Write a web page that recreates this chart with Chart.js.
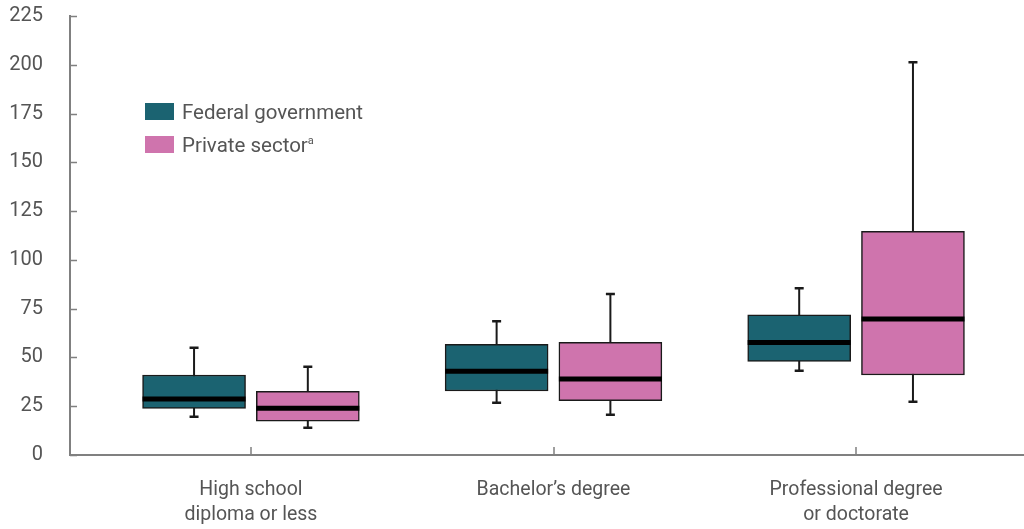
<!DOCTYPE html>
<html>
<head>
<meta charset="utf-8">
<script src="https://cdn.jsdelivr.net/npm/chart.js@4.4.1/dist/chart.umd.min.js"></script>
<style>
  html, body { margin: 0; padding: 0; background: #fff; }
  #wrap { position: relative; width: 1024px; height: 529px; }
  #legend { position: absolute; left: 145px; top: 103px; font-family: Roboto, sans-serif; font-size: 20.5px; color: #555; }
  .item { display: flex; align-items: center; height: 17px; margin-bottom: 16px; white-space: nowrap; }
  .swatch { width: 29px; height: 17px; margin-right: 8px; }
  .item sup { font-size: 11px; line-height: 0; vertical-align: 8px; }
</style>
</head>
<body>
<div id="wrap">
  <canvas id="chart"></canvas>
  <div id="legend"></div>
</div>
<script>
// ===== DATA =====
const categories = [['High school', 'diploma or less'], ['Bachelor’s degree'], ['Professional degree', 'or doctorate']];
const seriesNames = ['Federal government', 'Private sector'];
const seriesNotes = ['', 'a'];
const yTicks = [0, 25, 50, 75, 100, 125, 150, 175, 200, 225];

// Federal government
const fedMin    = [19.6, 26.8, 43.2];
const fedQ1     = [23.9, 32.8, 48.0];
const fedMedian = [28.7, 42.9, 57.7];
const fedQ3     = [41.0, 56.7, 71.9];
const fedMax    = [55.0, 68.6, 85.5];

// Private sector
const privMin    = [14.0, 20.6, 27.3];
const privQ1     = [17.4, 27.8, 41.0];
const privMedian = [23.9, 38.9, 69.7];
const privQ3     = [32.6, 57.7, 114.7];
const privMax    = [45.2, 82.5, 201.3];

const colors = ['#1b6371', '#cf74ad'];
const boxOffset = 0.188;
const axisGray = '#808080';
const textGray = '#555';

// ===== BOX PLOT PLUGIN (whiskers, medians, inner ticks) =====
const boxPlotPlugin = {
  id: 'boxPlot',
  beforeDatasetsDraw(chart) {
    const ctx = chart.ctx, y = chart.scales.y;
    ctx.save();
    ctx.strokeStyle = '#1a1a1a';
    chart.data.datasets.forEach((ds, d) => {
      chart.getDatasetMeta(d).data.forEach((bar, i) => {
        const lo = y.getPixelForValue(ds.low[i]);
        const hi = y.getPixelForValue(ds.high[i]);
        ctx.lineWidth = 2;
        ctx.beginPath();
        ctx.moveTo(bar.x, lo);
        ctx.lineTo(bar.x, hi);
        ctx.stroke();
        ctx.lineWidth = 2.5;
        ctx.beginPath();
        ctx.moveTo(bar.x - 4.5, lo); ctx.lineTo(bar.x + 4.5, lo);
        ctx.moveTo(bar.x - 4.5, hi); ctx.lineTo(bar.x + 4.5, hi);
        ctx.stroke();
      });
    });
    ctx.restore();
  },
  afterDatasetsDraw(chart) {
    const ctx = chart.ctx, y = chart.scales.y;
    ctx.save();
    ctx.strokeStyle = '#000';
    ctx.lineWidth = 5;
    chart.data.datasets.forEach((ds, d) => {
      chart.getDatasetMeta(d).data.forEach((bar, i) => {
        const py = y.getPixelForValue(ds.median[i]);
        ctx.beginPath();
        ctx.moveTo(bar.x - bar.width / 2, py);
        ctx.lineTo(bar.x + bar.width / 2, py);
        ctx.stroke();
      });
    });
    ctx.restore();
  },
  afterDraw(chart) {
    const ctx = chart.ctx, x = chart.scales.x, y = chart.scales.y;
    const area = chart.chartArea;
    ctx.save();
    ctx.strokeStyle = axisGray;
    ctx.lineWidth = 1.5;
    ctx.beginPath();
    yTicks.forEach(v => {
      const py = Math.round(y.getPixelForValue(v)) + 0.5;
      ctx.moveTo(area.left, py); ctx.lineTo(area.left + 7, py);
    });
    categories.forEach((c, i) => {
      const px = Math.round(x.getPixelForValue(i));
      ctx.moveTo(px, area.bottom); ctx.lineTo(px, area.bottom - 8);
    });
    ctx.stroke();
    ctx.restore();
  }
};

function boxDataset(idx, q1, q3, lo, hi, med, shift) {
  return {
    label: seriesNames[idx],
    data: categories.map((c, i) => ({ x: i + shift, y: [q1[i], q3[i]] })),
    backgroundColor: colors[idx],
    borderColor: '#1a1a1a',
    borderWidth: 1.5,
    borderSkipped: false,
    barThickness: 103,
    grouped: false,
    low: lo, high: hi, median: med
  };
}

document.addEventListener('DOMContentLoaded', function () {
  new Chart(document.getElementById('chart'), {
    type: 'bar',
    data: {
      datasets: [
        boxDataset(0, fedQ1, fedQ3, fedMin, fedMax, fedMedian, -boxOffset),
        boxDataset(1, privQ1, privQ3, privMin, privMax, privMedian, boxOffset)
      ]
    },
    options: {
      responsive: true, maintainAspectRatio: false, animation: false,
      layout: { padding: { top: 0, right: 0, left: 0, bottom: 0 } },
      plugins: { legend: { display: false }, tooltip: { enabled: false } },
      scales: {
        x: {
          type: 'linear', min: -0.598, max: 2.555, offset: false,
          afterBuildTicks: s => { s.ticks = categories.map((c, i) => ({ value: i })); },
          afterFit: s => { s.height = 74; },
          border: { display: true, color: axisGray, width: 2 },
          grid: { display: false, drawTicks: false, offset: false },
          ticks: {
            callback: (v, i) => categories[i],
            color: textGray, font: { family: 'Roboto', size: 19.5, lineHeight: 1.28 },
            padding: 23, maxRotation: 0, autoSkip: false
          }
        },
        y: {
          min: 0, max: 225,
          afterBuildTicks: s => { s.ticks = yTicks.map(v => ({ value: v })); },
          afterFit: s => { s.width = 70; },
          border: { display: true, color: axisGray, width: 2 },
          // tick marks are drawn by the plugin; tickLength only spaces the labels
          grid: { display: false, drawTicks: true, tickLength: 23 },
          ticks: { color: textGray, font: { family: 'Roboto', size: 20, lineHeight: 1.2 }, padding: 4 }
        }
      }
    },
    plugins: [boxPlotPlugin]
  });

  // ===== LEGEND =====
  const legend = document.getElementById('legend');
  seriesNames.forEach((name, i) => {
    const row = document.createElement('div');
    row.className = 'item';
    row.innerHTML = '<span class="swatch" style="background:' + colors[i] + '"></span><span>' + name +
      (seriesNotes[i] ? '<sup>' + seriesNotes[i] + '</sup>' : '') + '</span>';
    legend.appendChild(row);
  });
});
</script>
</body>
</html>
